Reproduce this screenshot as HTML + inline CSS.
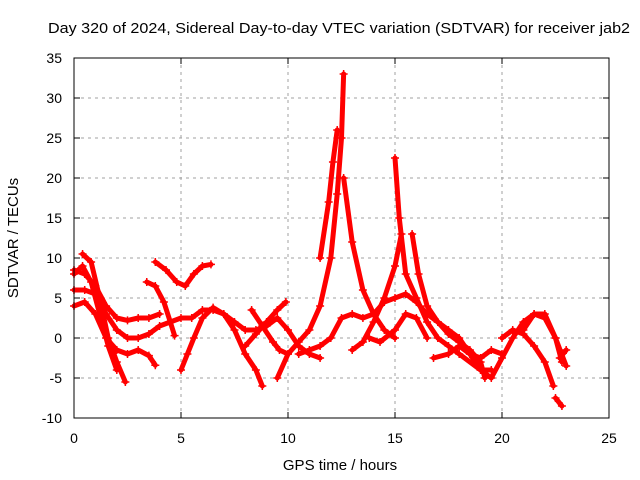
<!DOCTYPE html>
<html><head><meta charset="utf-8"><style>
body{margin:0;background:#fff}
svg{display:block;font-family:"Liberation Sans",sans-serif}
</style></head><body>
<svg id="chart" width="640" height="480" viewBox="0 0 640 480" xmlns="http://www.w3.org/2000/svg">
<rect width="640" height="480" fill="#fff"/>
<text x="48" y="33" font-size="15" textLength="582" lengthAdjust="spacingAndGlyphs">Day 320 of 2024, Sidereal Day-to-day VTEC variation (SDTVAR) for receiver jab2</text>
<g id="grid"></g>
<g id="series"></g>
<rect x="74" y="58" width="535" height="360" fill="none" stroke="#000" stroke-width="1"/>
<g id="ticks"></g>
<text x="340" y="470" font-size="15" text-anchor="middle">GPS time / hours</text>
<text transform="translate(18,238) rotate(-90)" font-size="15" text-anchor="middle">SDTVAR / TECUs</text>
</svg>
<script>
const xTicks=[0,5,10,15,20,25];
const yTicks=[-10,-5,0,5,10,15,20,25,30,35];
const tracks=[
[[0,8.5],[0.5,8],[1,6.5],[1.5,4],[2,2.5],[2.5,2.2],[3,2.5],[3.5,2.5],[4,3]],
[[0,6],[0.5,6],[1,5.5],[1.5,3],[2,1],[2.5,0],[3,0],[3.5,0.5],[4,1.5],[4.5,2],[5,2.5],[5.5,2.5],[6,3.5],[6.5,3.5],[7,3],[7.5,2],[8,1],[8.5,1],[9,1.5],[9.5,2.5],[10,1],[10.5,-1],[11,-2],[11.5,-2.5]],
[[0,4],[0.5,4.5],[1,3],[1.5,0],[2,-1.5],[2.5,-2],[3,-1.5],[3.5,-2.2],[3.8,-3.4]],
[[0.4,10.5],[0.8,9.5],[1.2,5],[1.6,0],[2,-3],[2.4,-5.5]],
[[0,8],[0.4,9],[0.8,7],[1.2,3],[1.6,-1],[2.0,-4]],
[[3.8,9.5],[4.3,8.5],[4.8,7],[5.2,6.5],[5.6,8],[6,9],[6.4,9.2]],
[[3.4,7],[3.8,6.5],[4.2,4.5],[4.5,2],[4.7,0.3]],
[[5,-4],[5.3,-2],[5.6,0],[6,2.5],[6.5,3.8],[7,3],[7.5,1],[8,-2],[8.5,-4],[8.8,-6]],
[[8,-1],[8.5,0.5],[9,2],[9.5,3.5],[9.9,4.5]],
[[8.3,3.5],[8.8,1.5],[9.3,-0.5],[9.6,-1.5],[10,-2]],
[[9.5,-5],[10,-2],[10.5,-0.5],[11,1],[11.5,4],[12,10],[12.3,18],[12.5,25],[12.6,33]],
[[11.5,10],[11.9,17],[12.1,22],[12.3,26]],
[[12.6,20],[13,12],[13.5,6],[14,3],[14.5,1],[15,0]],
[[13,-1.5],[13.5,-0.5],[14,2],[14.5,5],[15,9],[15.3,13]],
[[15,22.5],[15.2,15],[15.5,8],[16,5],[16.5,2],[17,0],[17.5,-1],[18,-2],[19,-4],[19.5,-4]],
[[15.8,13],[16.1,8],[16.5,4],[17,2],[17.5,0.5],[18,-0.5],[18.5,-1.5],[19,-3],[19.2,-5]],
[[10.5,-2],[11,-1.5],[11.5,-1],[12,0],[12.5,2.5],[13,3],[13.5,2.5],[14,3],[14.5,4.5],[15,5],[15.5,5.5],[16,4.5],[16.5,3],[17,2],[17.5,1],[18,0],[18.5,-2],[19,-4],[19.5,-5],[20,-2.5],[20.5,0],[21,2],[21.5,3],[22,2.5],[22.5,0],[22.8,-3]],
[[13.8,0],[14.3,-0.5],[15,1],[15.5,3],[16,2.5],[16.5,0]],
[[16.8,-2.5],[17.5,-2],[18,-1],[18.5,-2],[19,-2.5],[19.5,-1.5],[20,-2]],
[[20,0],[20.5,1],[21,0.5],[21.5,-1],[22,-3],[22.4,-6]],
[[22.5,-7.5],[22.8,-8.5]],
[[22.7,-2.5],[23,-1.5]],
[[21,1],[21.5,3],[22,3],[22.5,0],[23,-3.5]]
];
const NS="http://www.w3.org/2000/svg";
const X=v=>74+(v-0)*535/25;
const Y=v=>418-(v+10)*360/45;
const grid=document.getElementById('grid'),ticks=document.getElementById('ticks'),ser=document.getElementById('series');
function mk(tag,attrs,parent){const e=document.createElementNS(NS,tag);for(const k in attrs)e.setAttribute(k,attrs[k]);parent.appendChild(e);return e;}
xTicks.forEach(t=>{
  if(t>0&&t<25){const g=mk('line',{x1:X(t),x2:X(t),y1:58,y2:418,stroke:'#a0a0a0','stroke-dasharray':'3,4'},grid);
  
  }
  const l=mk('text',{x:X(t),y:443,'font-size':14,'text-anchor':'middle'},ticks);l.textContent=t;
  
  
  mk('line',{x1:X(t),x2:X(t),y1:418,y2:412,stroke:'#000'},ticks);
  mk('line',{x1:X(t),x2:X(t),y1:58,y2:64,stroke:'#000'},ticks);
});
yTicks.forEach(t=>{
  if(t>-10&&t<35){const g=mk('line',{x1:74,x2:609,y1:Y(t),y2:Y(t),stroke:'#a0a0a0','stroke-dasharray':'3,4'},grid);
  
  }
  const l=mk('text',{x:62,y:Y(t)+5,'font-size':14,'text-anchor':'end'},ticks);l.textContent=t;
  
  
  mk('line',{x1:74,x2:80,y1:Y(t),y2:Y(t),stroke:'#000'},ticks);
  mk('line',{x1:609,x2:603,y1:Y(t),y2:Y(t),stroke:'#000'},ticks);
});
tracks.forEach(tr=>{
  const p=mk('polyline',{points:tr.map(d=>X(d[0])+','+Y(d[1])).join(' '),fill:'none',stroke:'#f00','stroke-width':5,'stroke-linejoin':'round','stroke-linecap':'round'},ser);
  
  
  tr.forEach(d=>{
    const m=mk('path',{d:`M${X(d[0])-4},${Y(d[1])}h8M${X(d[0])},${Y(d[1])-4}v8`,stroke:'#f00','stroke-width':1.5},ser);
    
    
  });
});
</script>
</body></html>
